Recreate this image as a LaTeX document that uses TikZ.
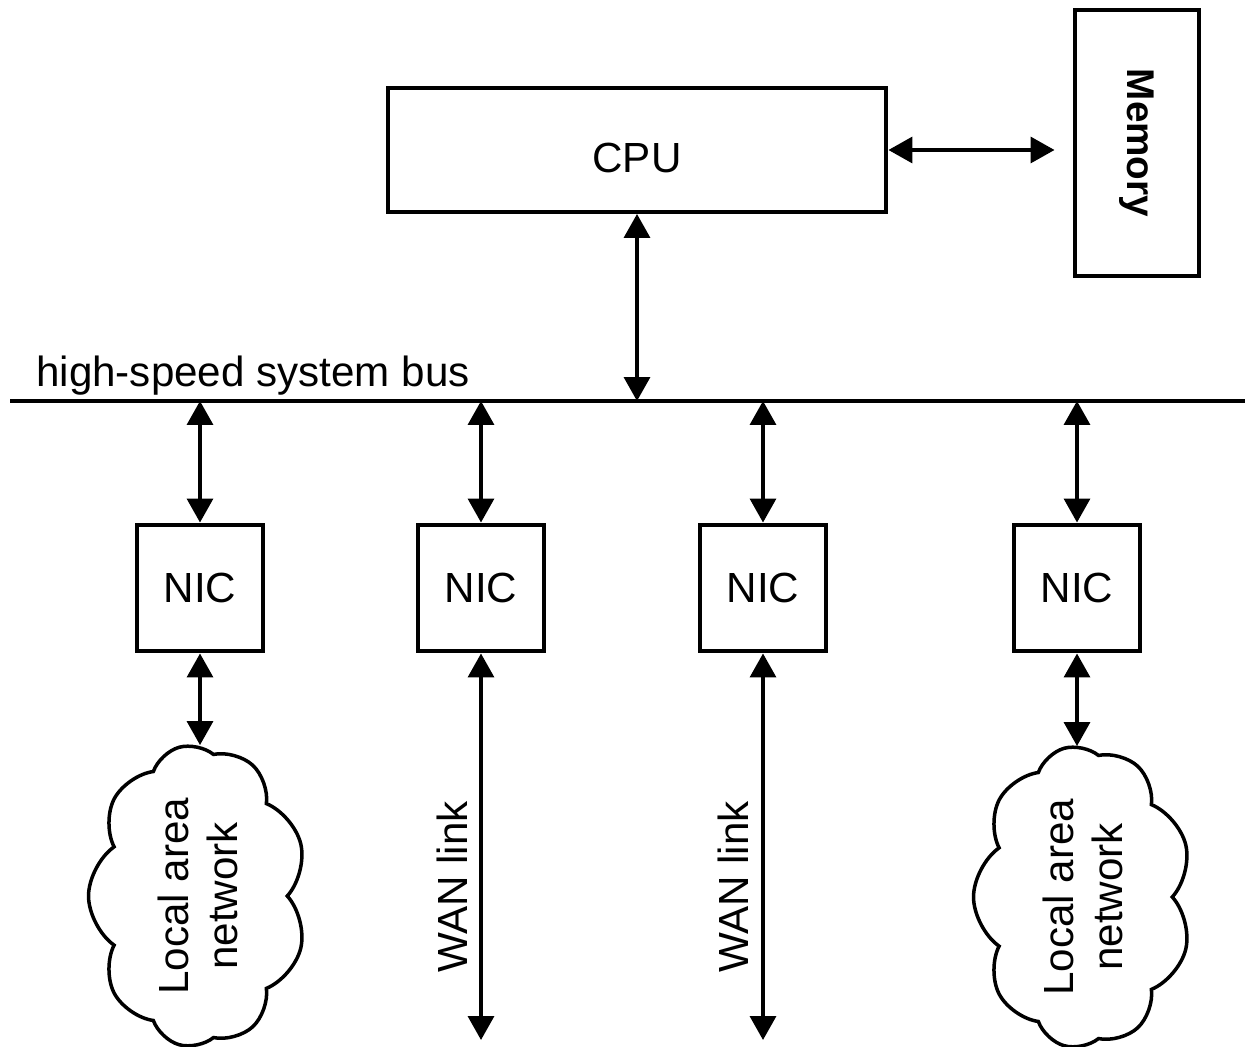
\documentclass[tikz,border=0pt]{standalone}
\usepackage{fontspec}
\setmainfont{Liberation Sans}
\usetikzlibrary{arrows.meta,shapes.symbols}
\tikzset{
	box/.style={draw, line width=0.8mm, fill=white, inner sep=0pt, font=\fontsize{24}{28}\selectfont},
	link/.style={{Triangle[length=0.48cm,width=0.52cm]}-{Triangle[length=0.48cm,width=0.52cm]}, line width=0.7mm},
	lan/.style={draw, cloud, cloud puffs=9, cloud puff arc=110, cloud ignores aspect, line width=0.7mm, rotate=90,
		minimum width=6.04cm, minimum height=4.38cm, inner sep=0pt, align=center, font=\fontsize{24}{28}\selectfont},
	lbl/.style={font=\fontsize{24}{28}\selectfont}
}
\begin{document}
\begin{tikzpicture}[x=0.02cm, y=-0.02cm]
		%%%%% START %%%%%
		
		\useasboundingbox (0, 0) rectangle (1245, 1047);
		
		\node[box, minimum width=9.98cm, minimum height=2.48cm] (cpu) at (637, 150) {\raisebox{-0.46cm}[0pt][0pt]{CPU}};
		\node[box, rotate=-90, minimum width=5.34cm, minimum height=2.5cm, font=\fontsize{22}{26}\bfseries] (mem) at (1137, 143) {Memory};
		\draw[link, shorten >=0.36cm] (cpu.east) -- (cpu.east -| mem.south);
		
		\coordinate (busL) at (10, 401);
		\coordinate (busR) at (1245, 401);
		\draw[line width=0.8mm] (busL) -- (busR);
		\node[lbl, anchor=base west] (buslbl) at (30, 387) {high-speed system bus};
		\draw[link] (cpu.south) -- (cpu.south |- busL);
		
		\foreach \name/\x in {nicA/200, nicB/481, nicC/763, nicD/1077} {
			\node[box, minimum width=2.54cm, minimum height=2.54cm] (\name) at (\x, 588) {NIC};
			\draw[link] (\name.north |- busL) -- (\name.north);
		}
		
		\node[lan] (lanA) at (198, 896) {Local area\\network};
		\node[lan] (lanB) at (1083, 897) {Local area\\network};
		\draw[link] (nicA.south) -- (nicA.south |- lanA.east);
		\draw[link] (nicD.south) -- (nicD.south |- lanB.east);
		
		\coordinate (wanB) at (481, 1040);
		\coordinate (wanC) at (763, 1040);
		\draw[link] (nicB.south) -- (wanB);
		\draw[link] (nicC.south) -- (wanC);
		\node[lbl, rotate=90] (wanlblB) at (452, 887) {WAN link};
		\node[lbl, rotate=90] (wanlblC) at (733, 887) {WAN link};
		
		%%%%% END %%%%%
	\end{tikzpicture}
\end{document}
